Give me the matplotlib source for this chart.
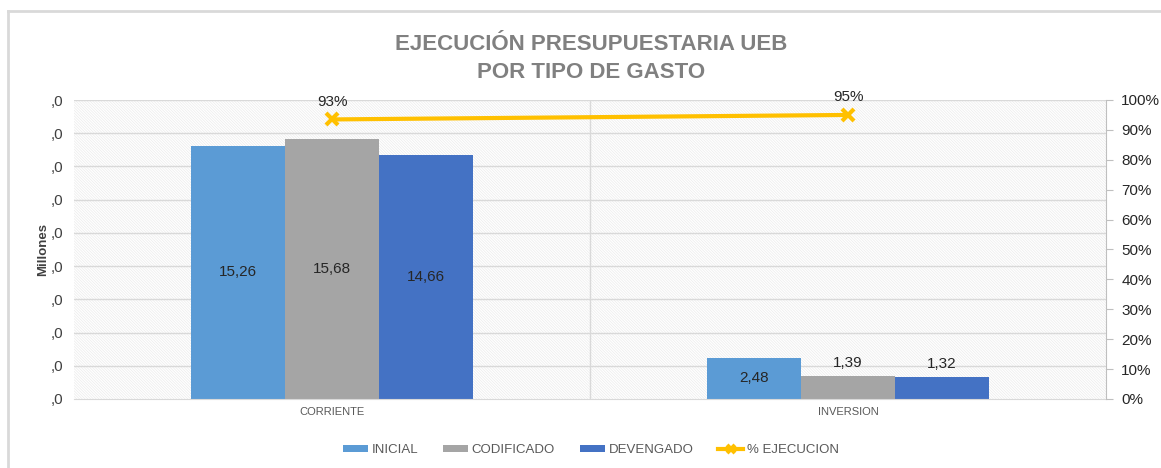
import numpy as np
import matplotlib.pyplot as plt
from matplotlib.patches import Rectangle
from matplotlib.lines import Line2D

categories = ["CORRIENTE", "INVERSION"]
inicial = [15.26, 2.48]
codificado = [15.68, 1.39]
devengado = [14.66, 1.32]
ejecucion = [0.935, 0.95]
ejec_labels = ["93%", "95%"]
left_ticks = [0, 2, 4, 6, 8, 10, 12, 14, 16, 18]
left_labels = [",0"] * 10
right_ticks = [0, 0.1, 0.2, 0.3, 0.4, 0.5, 0.6, 0.7, 0.8, 0.9, 1.0]

plt.rcParams['font.family'] = ['Liberation Sans', 'DejaVu Sans']
plt.rcParams['hatch.linewidth'] = 0.5

fig = plt.figure(figsize=(11.61, 4.68), dpi=100)
ax = fig.add_axes([74/1161, 1-399/468, (1106-74)/1161, 299/468])

x = np.arange(len(categories))
w = 0.182
cols = ["#5B9BD5", "#A5A5A5", "#4472C4"]

# hatched background, light
ax.add_patch(Rectangle((0, 0), 1, 1, transform=ax.transAxes, facecolor="white",
                       edgecolor="#EBEBEB", hatch="\\" * 12, lw=0, zorder=0))
for t in left_ticks[1:]:
    ax.axhline(t, color="#D9D9D9", lw=1, zorder=1)
ax.axvline(0.5, color="#D9D9D9", lw=1, zorder=1)

series = [inicial, codificado, devengado]
names = ["INICIAL", "CODIFICADO", "DEVENGADO"]
for i, (vals, c) in enumerate(zip(series, cols)):
    pos = x + (i - 1) * w
    ax.bar(pos, vals, w, color=c, zorder=2, label=names[i])
    for p, v in zip(pos, vals):
        lab = f"{v:.2f}".replace(".", ",")
        if v > 2:
            ax.text(p, v / 2, lab, ha="center", va="center", fontsize=11, color="#262626", zorder=5)
        else:
            ax.text(p, v + 0.35, lab, ha="center", va="bottom", fontsize=11, color="#262626", zorder=5)

ax.set_xlim(-0.5, 1.5)
ax.set_ylim(0, 18)
ax.set_yticks(left_ticks)
ax.set_yticklabels(left_labels, fontsize=11, color="#404040")
ax.tick_params(axis="y", length=0, pad=8)
ax.set_xticks(x)
ax.set_xticklabels(categories, fontsize=8, color="#595959")
ax.tick_params(axis="x", length=0, pad=6)
for s in ["top", "right", "left"]:
    ax.spines[s].set_visible(False)
ax.spines["bottom"].set_color("#D9D9D9")
ax.set_ylabel("Millones", fontsize=9.5, fontweight="bold", color="#404040")
ax.yaxis.set_label_coords(-25/1032, 0.5)

ax2 = ax.twinx()
ax2.plot(x, ejecucion, color="#FFC000", lw=3, marker="x", markersize=9,
         markeredgewidth=3, zorder=6, label="% EJECUCION")
for xi, v, lab in zip(x, ejecucion, ejec_labels):
    ax2.text(xi, v + 0.035, lab, ha="center", va="bottom", fontsize=11, color="#262626")
ax2.set_ylim(0, 1)
ax2.set_yticks(right_ticks)
ax2.set_yticklabels([f"{int(round(t*100))}%" for t in right_ticks], fontsize=11, color="#262626")
ax2.tick_params(axis="y", length=5, color="#BFBFBF", pad=6)
for s in ["top", "left", "bottom"]:
    ax2.spines[s].set_visible(False)
ax2.spines["right"].set_color("#BFBFBF")

fig.text(591/1161, 1-45/468, "EJECUCIÓN PRESUPUESTARIA UEB", ha="center", va="center",
         fontsize=16, fontweight="bold", color="#808080")
fig.text(591/1161, 1-73/468, "POR TIPO DE GASTO", ha="center", va="center",
         fontsize=16, fontweight="bold", color="#808080")

h1, l1 = ax.get_legend_handles_labels()
h2, l2 = ax2.get_legend_handles_labels()
fig.legend(h1 + h2, l1 + l2, loc="center", bbox_to_anchor=(591/1161, 1-450/468), ncol=4,
           frameon=False, fontsize=9.5, labelcolor="#595959", handlelength=1.9,
           handleheight=0.5, columnspacing=1.9, handletextpad=0.25, markerscale=0.7)

# chart border
fig.add_artist(Line2D([8/1161, 8/1161], [0, 1-11/468], color="#D9D9D9", lw=2))
fig.add_artist(Line2D([8/1161, 1], [1-11/468, 1-11/468], color="#D9D9D9", lw=2))

fig.savefig("out.png", dpi=100)
